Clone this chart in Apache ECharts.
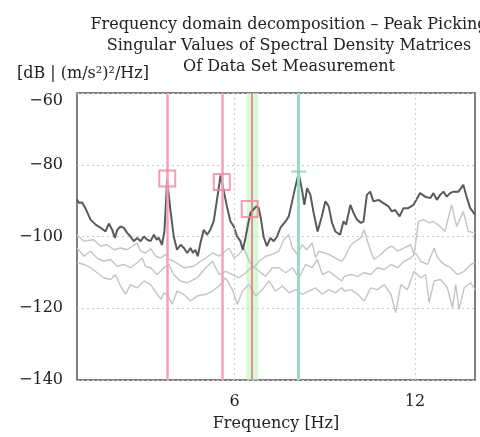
<!DOCTYPE html>
<html>
<head>
<meta charset="utf-8">
<script src="https://cdn.jsdelivr.net/npm/echarts@6/dist/echarts.min.js"></script>
<style>html,body{margin:0;padding:0;background:#fff}#c{width:480px;height:437px}</style>
</head>
<body>
<div id="c"></div>
<script>
// ---- data ----
var titleLines = ['Frequency domain decomposition \u2013 Peak Picking', 'Singular Values of Spectral Density Matrices', 'Of Data Set Measurement'];
var yUnit = '[dB | (m/s\u00b2)\u00b2/Hz]';
var xName = 'Frequency [Hz]';
var xTicks = [6, 12];
var yTicks = [-140, -120, -100, -80, -60];

// first singular value (dark)
var sv1Freq = [0.75,0.81,0.92,1.03,1.20,1.37,1.54,1.70,1.81,1.92,2.01,2.09,2.20,2.31,2.42,2.53,2.64,2.75,2.87,2.98,3.09,3.20,3.31,3.40,3.47,3.58,3.66,3.75,3.86,3.97,4.08,4.20,4.31,4.42,4.53,4.61,4.69,4.77,4.86,4.97,5.08,5.19,5.30,5.41,5.53,5.63,5.74,5.86,5.97,6.08,6.19,6.27,6.36,6.43,6.52,6.63,6.72,6.80,6.87,6.96,7.07,7.19,7.30,7.41,7.52,7.69,7.80,7.90,8.02,8.13,8.24,8.32,8.41,8.52,8.63,8.76,8.90,9.02,9.13,9.24,9.35,9.51,9.62,9.71,9.85,9.96,10.07,10.20,10.29,10.40,10.51,10.62,10.79,10.95,11.12,11.23,11.34,11.49,11.62,11.78,11.95,12.17,12.34,12.51,12.62,12.73,12.84,12.95,13.06,13.17,13.28,13.45,13.61,13.72,13.84,14.0];
var sv1Db = [-89.6,-90.6,-90.5,-92.1,-95.3,-96.7,-97.6,-98.6,-96.4,-98.1,-100.4,-98.1,-97.2,-97.6,-99.0,-100.0,-101.3,-100.4,-101.3,-100.0,-100.9,-101.3,-99.5,-100.9,-100.3,-102.3,-98.6,-84.3,-92.6,-100.0,-103.7,-102.3,-103.2,-104.6,-103.2,-104.6,-103.7,-105.5,-101.8,-98.1,-99.5,-98.1,-95.8,-89.8,-83.0,-87.0,-91.6,-95.8,-97.2,-100.0,-101.3,-103.7,-100.4,-97.2,-93.5,-92.4,-91.6,-92.1,-94.9,-100.0,-102.7,-100.4,-101.3,-100.0,-97.6,-95.8,-94.4,-90.7,-86.1,-82.4,-87.0,-91.2,-86.5,-88.4,-93.5,-98.6,-94.4,-90.2,-91.6,-96.2,-98.6,-99.5,-95.8,-96.7,-91.2,-93.5,-95.3,-96.2,-95.8,-88.4,-87.5,-90.2,-89.8,-90.7,-91.6,-93.0,-92.6,-94.4,-92.1,-92.1,-91.2,-87.9,-88.9,-89.3,-87.9,-89.8,-88.4,-87.5,-88.9,-87.9,-87.5,-87.5,-85.6,-88.9,-92.1,-93.9];

// second singular value (light)
var sv2Freq = [0.75,0.98,1.31,1.54,1.75,1.98,2.20,2.42,2.75,2.87,3.03,3.20,3.37,3.53,3.70,3.81,3.97,4.30,4.64,4.86,5.04,5.26,5.48,5.81,5.98,6.14,6.31,6.48,6.64,6.81,7.03,7.25,7.47,7.63,7.80,7.92,8.08,8.25,8.39,8.58,8.69,8.80,9.13,9.36,9.56,9.65,9.87,10.03,10.20,10.31,10.42,10.53,10.64,10.86,11.09,11.25,11.42,11.64,11.86,11.97,12.06,12.12,12.28,12.48,12.62,12.84,13.00,13.22,13.39,13.61,13.78,14.0];
var sv2Db = [-99.5,-101.3,-100.9,-102.7,-102.3,-103.7,-103.2,-103.7,-101.8,-104.1,-104.6,-103.4,-105.5,-106.0,-105.0,-106.4,-106.9,-108.7,-108.3,-106.9,-106.0,-104.6,-105.5,-103.2,-106.0,-105.0,-103.2,-106.9,-108.7,-106.9,-105.5,-105.0,-104.1,-100.9,-99.5,-103.2,-105.0,-102.3,-103.7,-101.8,-105.9,-104.1,-105.0,-106.0,-106.9,-106.0,-102.3,-101.3,-100.4,-98.1,-101.3,-104.1,-106.4,-105.0,-103.2,-102.7,-104.1,-103.2,-102.3,-105.0,-99.5,-95.8,-95.3,-96.2,-95.8,-97.2,-98.6,-91.2,-97.2,-93.0,-98.6,-99.0];

// third singular value (light)
var sv3Freq = [0.75,0.98,1.20,1.42,1.64,1.87,2.09,2.31,2.53,2.75,2.92,3.03,3.20,3.42,3.64,3.81,3.97,4.19,4.41,4.75,5.04,5.26,5.48,5.70,5.92,6.14,6.37,6.59,6.81,7.03,7.25,7.47,7.70,7.92,8.14,8.36,8.58,8.75,8.92,9.13,9.36,9.56,9.65,9.87,10.09,10.31,10.53,10.75,10.98,11.20,11.42,11.64,11.86,12.03,12.19,12.42,12.64,12.75,12.97,13.19,13.41,13.64,13.86,14.0];
var sv3Db = [-103.2,-105.5,-104.1,-106.0,-106.9,-106.4,-108.3,-107.8,-108.7,-107.3,-106.0,-108.3,-108.7,-110.6,-108.7,-107.8,-110.6,-112.4,-112.9,-111.5,-108.7,-106.9,-110.6,-109.7,-110.6,-111.5,-110.1,-108.3,-109.7,-111.1,-108.7,-108.7,-110.1,-108.7,-111.5,-107.8,-108.7,-106.4,-110.6,-109.7,-111.1,-112.4,-111.1,-110.6,-111.1,-110.1,-110.6,-108.7,-109.2,-107.8,-108.7,-106.9,-106.0,-104.6,-106.9,-107.8,-103.2,-105.9,-107.8,-108.7,-110.6,-109.7,-107.8,-107.3];

// fourth singular value (light)
var sv4Freq = [0.75,0.98,1.20,1.42,1.64,1.87,2.03,2.20,2.37,2.53,2.75,2.98,3.20,3.42,3.55,3.64,3.77,3.92,4.08,4.30,4.53,4.75,5.04,5.26,5.48,5.70,5.92,6.09,6.26,6.48,6.70,6.92,7.14,7.36,7.59,7.81,8.03,8.25,8.47,8.69,8.92,9.13,9.36,9.56,9.65,9.87,10.09,10.31,10.53,10.75,10.98,11.20,11.36,11.53,11.75,11.97,12.19,12.36,12.47,12.64,12.86,13.08,13.25,13.36,13.47,13.64,13.86,14.0];
var sv4Db = [-107.3,-107.8,-108.7,-110.1,-111.5,-112.0,-110.6,-113.8,-116.1,-113.4,-114.3,-112.4,-113.4,-116.1,-117.5,-115.7,-116.4,-118.9,-115.2,-116.1,-118.0,-116.6,-116.1,-115.2,-113.8,-111.5,-114.8,-118.9,-115.2,-113.4,-116.6,-114.8,-112.4,-115.2,-113.8,-115.7,-114.8,-116.1,-115.2,-114.3,-116.1,-114.8,-115.7,-114.3,-115.2,-114.8,-116.1,-118.0,-114.3,-114.8,-113.4,-116.1,-121.2,-113.4,-114.8,-109.7,-111.5,-110.6,-118.4,-112.4,-112.0,-114.3,-119.8,-113.4,-120.3,-114.3,-112.9,-114.8];

// picked peaks (pink squares + pink lines)
var peakFreq = [3.755, 5.57, 6.50];
var peakDb = [-83.8, -84.8, -92.3];
var pinkLineFreq = [3.76, 5.57];
var redLineFreq = [6.58];
var greenBand = [6.39, 6.78];
var tealFreq = [8.13];
var tealDb = [-81.9];

// ---- chart ----
function zip(a, b) { return a.map(function (v, i) { return [v, b[i]]; }); }
var serif = 'DejaVu Serif';
var chart = echarts.init(document.getElementById('c'), null, { renderer: 'canvas' });
chart.setOption({
  animation: false,
  backgroundColor: '#fff',
  title: [{
    text: titleLines.join('\n'),
    left: 284, top: 9, textAlign: 'center',
    textStyle: { fontFamily: serif, fontSize: 16, fontWeight: 'normal', color: '#222', lineHeight: 21 }
  }, {
    text: yUnit, left: 12, top: 61,
    textStyle: { fontFamily: serif, fontSize: 16, fontWeight: 'normal', color: '#222' }
  }],
  grid: { left: 77, right: 5, top: 93, bottom: 56, show: true, borderColor: '#555', borderWidth: 1.5, backgroundColor: 'transparent' },
  xAxis: {
    type: 'value', min: 0.75, max: 14,
    name: xName, nameLocation: 'middle', nameGap: 36,
    nameTextStyle: { fontFamily: serif, fontSize: 16, color: '#222' },
    axisLine: { show: false }, axisTick: { show: false, customValues: xTicks },
    axisLabel: { customValues: xTicks, fontFamily: serif, fontSize: 16, color: '#222', margin: 14 },
    splitLine: { show: false }
  },
  yAxis: {
    type: 'value', min: yTicks[0], max: yTicks[yTicks.length - 1], interval: 20,
    axisLine: { show: false }, axisTick: { show: false },
    axisLabel: { fontFamily: serif, fontSize: 16, color: '#222', margin: 14,
      formatter: function (v) {
        var s = String(v).replace('-', '\u2212');
        return v === yTicks[yTicks.length - 1] ? '{top|' + s + '}' : s;
      },
      rich: { top: { fontFamily: serif, fontSize: 16, color: '#222', padding: [16, 0, 0, 0] } } },
    splitLine: { show: true, lineStyle: { color: '#c8c8c8', type: [2, 3], width: 1.2 } }
  },
  series: [
    { type: 'line', data: zip(sv4Freq, sv4Db), symbol: 'none', z: 2, lineStyle: { color: '#c4c4c4', width: 1.4 } },
    { type: 'line', data: zip(sv3Freq, sv3Db), symbol: 'none', z: 2, lineStyle: { color: '#c4c4c4', width: 1.4 } },
    { type: 'line', data: zip(sv2Freq, sv2Db), symbol: 'none', z: 2, lineStyle: { color: '#c4c4c4', width: 1.4 } },
    { type: 'line', data: [], z: 1,
      markLine: { silent: true, symbol: 'none', label: { show: false },
        lineStyle: { color: '#cfcfcf', type: [2, 3], width: 1.2 },
        data: xTicks.map(function (v) { return { xAxis: v }; }) },
      markArea: { silent: true, itemStyle: { color: 'rgba(190,245,180,0.6)' },
        data: [[{ xAxis: greenBand[0] }, { xAxis: greenBand[1] }]] } },
    { type: 'line', data: [], z: 3,
      markLine: { silent: true, symbol: 'none', label: { show: false },
        data: pinkLineFreq.map(function (v) { return { xAxis: v, lineStyle: { color: '#f4a0ba', width: 2.5, type: 'solid' } }; })
          .concat(redLineFreq.map(function (v) { return { xAxis: v, lineStyle: { color: '#d8708c', width: 1.5, type: 'solid' } }; }))
          .concat(tealFreq.map(function (v) { return { xAxis: v, lineStyle: { color: '#9ad9c8', width: 3, type: 'solid' } }; })) } },
    { type: 'line', data: zip(sv1Freq, sv1Db), symbol: 'none', z: 4, lineStyle: { color: '#5a5a5a', width: 2 } },
    { type: 'scatter', data: zip(peakFreq, peakDb), symbol: 'rect', symbolSize: 16, z: 5,
      itemStyle: { color: 'rgba(0,0,0,0)', borderColor: '#f0859f', borderWidth: 2 } },
    { type: 'scatter', data: zip(tealFreq, tealDb), symbol: 'rect', symbolSize: [15, 2], z: 5,
      itemStyle: { color: '#7fd0bb' } }
  ]
});
</script>
</body>
</html>
